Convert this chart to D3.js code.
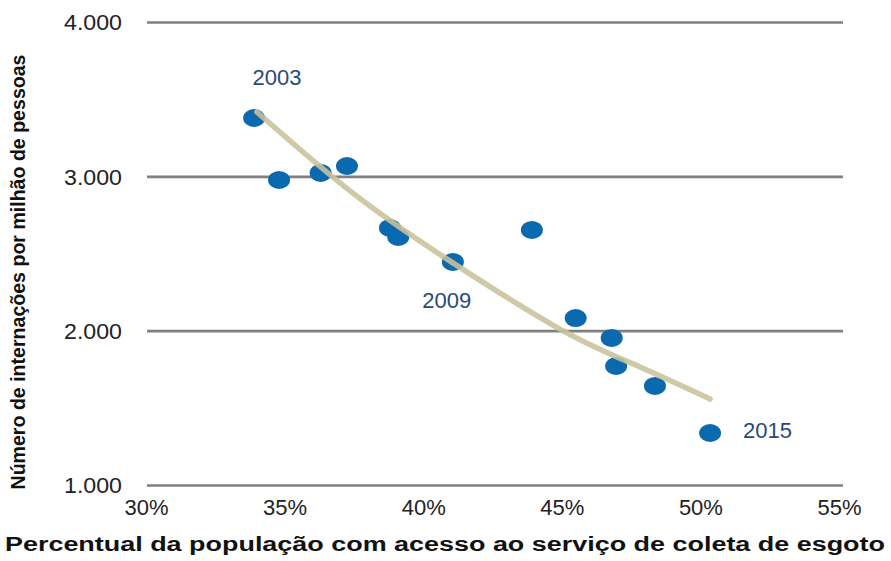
<!DOCTYPE html>
<html><head><meta charset="utf-8">
<script src="https://cdn.jsdelivr.net/npm/d3@7"></script>
<style>
html,body{margin:0;padding:0;background:#fff;}
svg{display:block;}
</style></head>
<body><svg id="c" width="891" height="561"></svg>
<script>
// ---- data ----
const years = [2003,2004,2005,2006,2007,2008,2009,2010,2011,2012,2013,2014,2015];
const coverage = [33.9,34.8,36.3,37.25,38.8,39.1,41.07,43.92,45.5,46.8,46.96,48.36,50.35];
const admissions = [3378,2977,3022,3067,2666,2607,2445,2653,2082,1953,1771,1642,1337];
const labeledYears = [2003,2009,2015];
const trendX = [34.0,37.5,41.07,44.93,47.5,50.35];
const trendY = [3417,2886,2439,2010,1790,1557];
const xTicks = [30,35,40,45,50,55];
const yTicks = [1000,2000,3000,4000];
const xTitle = "Percentual da população com acesso ao serviço de coleta de esgoto";
const yTitle = "Número de internações por milhão de pessoas";

const svg = d3.select("#c");
const x = d3.scaleLinear().domain([30,55]).range([146,839]);
const y = d3.scaleLinear().domain([1000,4000]).range([485,22]);

// y axis with gridlines
const gy = svg.append("g").attr("transform","translate(147,0)")
  .call(d3.axisLeft(y).tickValues(yTicks).tickSize(-696).tickPadding(25)
    .tickFormat(d => d3.format(",")(d).replace(",", ".")));
gy.select(".domain").remove();
gy.selectAll(".tick line").attr("stroke","#808080").attr("stroke-width",2.6);
gy.selectAll(".tick text").attr("font-family","Liberation Sans, Arial, sans-serif")
  .attr("font-size",22).attr("fill","#222").attr("dy","0.36em")
  .attr("textLength",58).attr("lengthAdjust","spacingAndGlyphs");

// x axis
const gx = svg.append("g").attr("transform","translate(0,485)")
  .call(d3.axisBottom(x).tickValues(xTicks).tickSize(0).tickPadding(14)
    .tickFormat(d => d + "%"));
gx.select(".domain").remove();
gx.selectAll(".tick text").attr("font-family","Liberation Sans, Arial, sans-serif")
  .attr("font-size",22).attr("fill","#222");

// points
const pts = years.map((yr,i)=>({yr, cx:coverage[i], cy:admissions[i]}));
svg.append("g").selectAll("ellipse").data(pts).join("ellipse")
  .attr("cx",d=>x(d.cx)).attr("cy",d=>y(d.cy))
  .attr("rx",11).attr("ry",9).attr("fill","#0b6aaf");

// trend line
const line = d3.line().x(d=>x(d[0])).y(d=>y(d[1])).curve(d3.curveNatural);
svg.append("path").datum(trendX.map((v,i)=>[v,trendY[i]]))
  .attr("d",line).attr("fill","none").attr("stroke","#c9c19b")
  .attr("stroke-width",5.5).attr("stroke-opacity",0.88).attr("stroke-linecap","round");

// year labels
const offs = {2003:[23,-33,"middle"],2009:[-6,46,"middle"],2015:[33,5,"start"]};
svg.append("g").selectAll("text").data(pts.filter(d=>labeledYears.includes(d.yr))).join("text")
  .attr("x",d=>x(d.cx)+offs[d.yr][0]).attr("y",d=>y(d.cy)+offs[d.yr][1])
  .attr("text-anchor",d=>offs[d.yr][2])
  .attr("font-family","Liberation Sans Narrow, Arial Narrow, sans-serif")
  .attr("font-size",22).attr("fill","#2a4a78")
  .attr("textLength",49).attr("lengthAdjust","spacingAndGlyphs")
  .text(d=>d.yr);

// axis titles
svg.append("text").attr("x",445).attr("y",551).attr("text-anchor","middle")
  .attr("font-family","Liberation Sans, Arial, sans-serif").attr("font-weight","bold")
  .attr("font-size",20).attr("fill","#111")
  .attr("textLength",880).attr("lengthAdjust","spacingAndGlyphs")
  .text(xTitle);

svg.append("text").attr("transform","translate(25,272) rotate(-90)").attr("text-anchor","middle")
  .attr("font-family","Liberation Sans Narrow, Arial Narrow, sans-serif").attr("font-weight","bold")
  .attr("font-size",20).attr("fill","#111")
  .attr("textLength",435).attr("lengthAdjust","spacingAndGlyphs")
  .text(yTitle);
</script></body></html>
